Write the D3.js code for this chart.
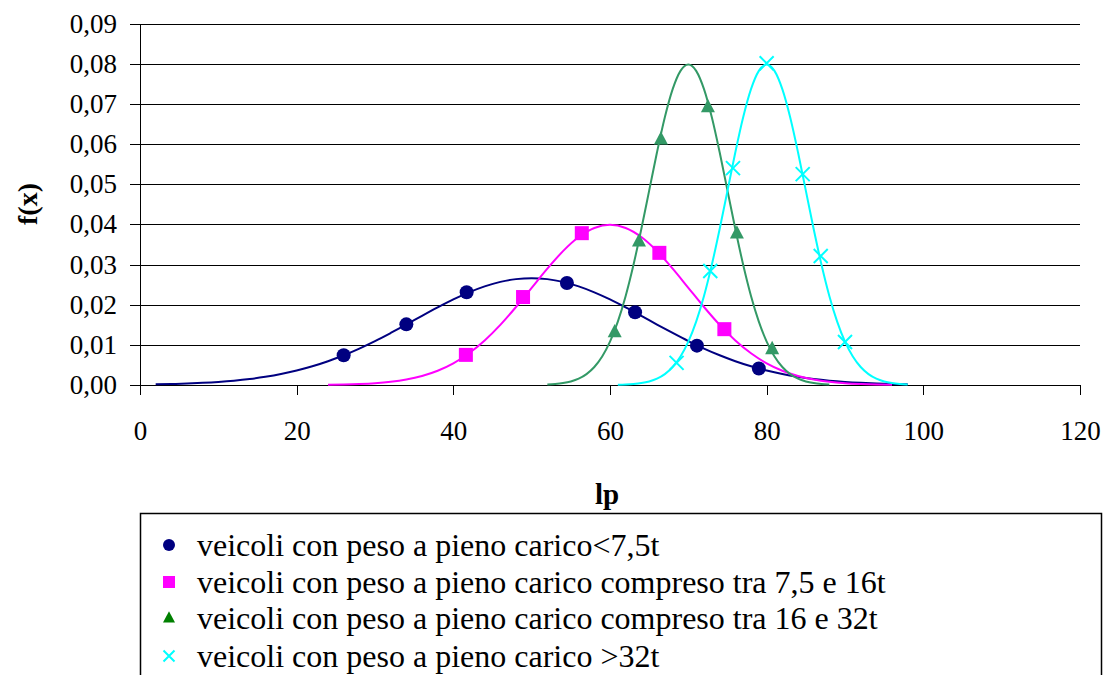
<!DOCTYPE html>
<html>
<head>
<meta charset="utf-8">
<script src="https://cdn.jsdelivr.net/npm/d3@7"></script>
<style>
  body { margin: 0; background: #fff; }
  svg text { font-family: "Liberation Serif", "Times New Roman", Times, "DejaVu Serif", serif; }
</style>
</head>
<body>
<div id="chart"></div>
<script>
// series names (legend)
var seriesNames = [
  "veicoli con peso a pieno carico<7,5t",
  "veicoli con peso a pieno carico compreso tra 7,5 e 16t",
  "veicoli con peso a pieno carico compreso tra 16 e 32t",
  "veicoli con peso a pieno carico >32t"
];
var yTicks = [0, 0.01, 0.02, 0.03, 0.04, 0.05, 0.06, 0.07, 0.08, 0.09];
var xTicks = [0, 20, 40, 60, 80, 100, 120];

// curve 1 (<7,5t), lp every 2 from 2 to 98
var lp1 = [2,4,6,8,10,12,14,16,18,20,22,24,26,28,30,32,34,36,38,40,42,44,46,48,50,
  52,54,56,58,60,62,64,66,68,70,72,74,76,78,80,82,84,86,88,90,92,94,96,98];
var fx1 = [0.00016,0.00024,0.00036,0.00053,0.00076,0.00107,0.00149,0.00204,0.00273,0.00360,
  0.00466,0.00592,0.00740,0.00907,0.01093,0.01295,0.01505,0.01721,0.01931,0.02130,
  0.02307,0.02455,0.02567,0.02636,0.02660,0.02636,0.02567,0.02455,0.02307,0.02130,
  0.01931,0.01721,0.01505,0.01295,0.01093,0.00907,0.00740,0.00592,0.00466,0.00360,
  0.00273,0.00204,0.00149,0.00107,0.00076,0.00053,0.00036,0.00024,0.00016];
var mk1x = [26, 34, 41.7, 54.5, 63.2, 71.1, 79.0];
var mk1y = [0.0074, 0.0151, 0.0231, 0.0254, 0.0181, 0.0098, 0.0041];

// curve 2 (7,5 - 16t), lp every 2 from 24 to 96
var lp2 = [24,26,28,30,32,34,36,38,40,42,44,46,48,50,52,54,56,58,60,
  62,64,66,68,70,72,74,76,78,80,82,84,86,88,90,92,94,96];
var fx2 = [0.00006,0.00012,0.00024,0.00044,0.00079,0.00136,0.00224,0.00355,0.00540,0.00790,
  0.01109,0.01497,0.01942,0.02420,0.02897,0.03332,0.03683,0.03910,0.03989,0.03910,
  0.03683,0.03332,0.02897,0.02420,0.01942,0.01497,0.01109,0.00790,0.00540,0.00355,
  0.00224,0.00136,0.00079,0.00044,0.00024,0.00012,0.00006];
var mk2x = [41.6, 48.9, 56.4, 66.3, 74.6];
var mk2y = [0.0075, 0.0219, 0.0378, 0.0329, 0.0139];

// curve 3 (16 - 32t), lp every 1 from 52 to 88
var lp3 = [52,53,54,55,56,57,58,59,60,61,62,63,64,65,66,67,68,69,70,
  71,72,73,74,75,76,77,78,79,80,81,82,83,84,85,86,87,88];
var fx3 = [0.00012,0.00025,0.00048,0.00089,0.00158,0.00272,0.00448,0.00710,0.01080,0.01579,
  0.02218,0.02995,0.03884,0.04839,0.05794,0.06665,0.07365,0.07821,0.07979,0.07821,
  0.07365,0.06665,0.05794,0.04839,0.03884,0.02995,0.02218,0.01579,0.01080,0.00710,
  0.00448,0.00272,0.00158,0.00089,0.00048,0.00025,0.00012];
var mk3x = [60.6, 63.7, 66.5, 72.5, 76.2, 80.7];
var mk3y = [0.0132, 0.0358, 0.0612, 0.0692, 0.0378, 0.0090];

// curve 4 (>32t), lp every 1 from 61 to 98
var lp4 = [61,62,63,64,65,66,67,68,69,70,71,72,73,74,75,76,77,78,79,80,
  81,82,83,84,85,86,87,88,89,90,91,92,93,94,95,96,97,98];
var fx4 = [0.00006,0.00012,0.00025,0.00048,0.00089,0.00158,0.00272,0.00448,0.00710,0.01080,
  0.01579,0.02218,0.02995,0.03884,0.04839,0.05794,0.06665,0.07365,0.07821,0.07979,
  0.07821,0.07365,0.06665,0.05794,0.04839,0.03884,0.02995,0.02218,0.01579,0.01080,
  0.00710,0.00448,0.00272,0.00158,0.00089,0.00048,0.00025,0.00012];
var mk4x = [68.5, 72.8, 75.7, 80.0, 84.6, 86.9, 90.0];
var mk4y = [0.0055, 0.0284, 0.0540, 0.0801, 0.0525, 0.0321, 0.0107];

var svgWidth = 1112;
var svgHeight = 675;
var plot = { left: 140, right: 1080, top: 23.5, bottom: 385 };

var svg = d3.select("#chart")
  .append("svg")
  .attr("width", svgWidth)
  .attr("height", svgHeight);

var xScale = d3.scaleLinear().domain([0, 120]).range([plot.left, plot.right]);
var yScale = d3.scaleLinear().domain([0, 0.09]).range([plot.bottom, plot.top]);

var fmt = function(d) { return d3.format(".2f")(d).replace(".", ","); };

// horizontal grid lines
svg.append("g")
  .attr("transform", `translate(${plot.left},0)`)
  .call(d3.axisLeft(yScale).tickValues(yTicks).tickSize(-(plot.right - plot.left)).tickFormat(""))
  .call(g => g.select(".domain").remove())
  .selectAll("line")
  .attr("stroke", "#000")
  .attr("shape-rendering", "crispEdges");

// y axis
svg.append("g")
  .attr("transform", `translate(${plot.left},0)`)
  .call(d3.axisLeft(yScale).tickValues(yTicks).tickSize(10).tickSizeOuter(0).tickPadding(13).tickFormat(fmt))
  .attr("font-family", null)
  .call(g => g.selectAll("text").attr("font-size", 27).attr("fill", "#000"))
  .call(g => g.selectAll("line, path").attr("stroke", "#000").attr("shape-rendering", "crispEdges"));

// x axis
svg.append("g")
  .attr("transform", `translate(0,${plot.bottom})`)
  .call(d3.axisBottom(xScale).tickValues(xTicks).tickSize(10).tickSizeOuter(0).tickPadding(26))
  .attr("font-family", null)
  .call(g => g.selectAll("text").attr("font-size", 27).attr("fill", "#000"))
  .call(g => g.selectAll("line, path").attr("stroke", "#000").attr("shape-rendering", "crispEdges"));

// axis titles
svg.append("text")
  .attr("x", xScale(60) - 3)
  .attr("y", 504)
  .attr("text-anchor", "middle")
  .attr("font-size", 29)
  .attr("font-weight", "bold")
  .text("lp");

svg.append("text")
  .attr("transform", "translate(27,204) rotate(-90)")
  .attr("text-anchor", "middle")
  .attr("dominant-baseline", "central")
  .attr("font-size", 28)
  .attr("font-weight", "bold")
  .text("f(x)");

var series = [
  { lp: lp1, fx: fx1, mx: mk1x, my: mk1y, color: "#000080", legendColor: "#000080", shape: "circle" },
  { lp: lp2, fx: fx2, mx: mk2x, my: mk2y, color: "#FF00FF", legendColor: "#FF00FF", shape: "square" },
  { lp: lp3, fx: fx3, mx: mk3x, my: mk3y, color: "#339966", legendColor: "#008000", shape: "triangle" },
  { lp: lp4, fx: fx4, mx: mk4x, my: mk4y, color: "#00FFFF", legendColor: "#00FFFF", shape: "cross" }
];

var line = d3.line()
  .x(d => xScale(d[0]))
  .y(d => yScale(d[1]))
  .curve(d3.curveMonotoneX);

function drawMarker(g, shape, color, size) {
  if (shape === "circle") {
    g.append("circle").attr("r", size / 2).attr("fill", color);
  } else if (shape === "square") {
    g.append("rect").attr("x", -size / 2).attr("y", -size / 2)
      .attr("width", size).attr("height", size).attr("fill", color);
  } else if (shape === "triangle") {
    var h = size * 0.95;
    g.append("path")
      .attr("d", `M0,${-h * 0.6}L${size / 2},${h * 0.4}L${-size / 2},${h * 0.4}Z`)
      .attr("fill", color);
  } else {
    var s = size / 2;
    g.append("path")
      .attr("d", `M${-s},${-s}L${s},${s}M${-s},${s}L${s},${-s}`)
      .attr("stroke", color).attr("stroke-width", 2).attr("fill", "none");
  }
}

series.forEach(function(s) {
  var pts = s.lp.map((v, i) => [v, s.fx[i]]);
  svg.append("path")
    .datum(pts)
    .attr("d", line)
    .attr("fill", "none")
    .attr("stroke", s.color)
    .attr("stroke-width", 2);
});

series.forEach(function(s) {
  s.mx.forEach(function(v, i) {
    var g = svg.append("g")
      .attr("transform", `translate(${xScale(v)},${yScale(s.my[i])})`);
    drawMarker(g, s.shape, s.color, 14);
  });
});

// legend
var legend = svg.append("g");
legend.append("rect")
  .attr("x", 140.5)
  .attr("y", 513.5)
  .attr("width", 961)
  .attr("height", 200)
  .attr("fill", "#fff")
  .attr("stroke", "#000")
  .attr("stroke-width", 1.5);

var rowY = [545, 582, 618, 656];
series.forEach(function(s, i) {
  var g = legend.append("g").attr("transform", `translate(169,${rowY[i]})`);
  drawMarker(g, s.shape, s.legendColor, s.shape === "cross" ? 11 : 12);
  legend.append("text")
    .attr("x", 197)
    .attr("y", rowY[i])
    .attr("dominant-baseline", "central")
    .attr("font-size", 32)
    .attr("fill", "#000")
    .text(seriesNames[i]);
});
</script>
</body>
</html>
